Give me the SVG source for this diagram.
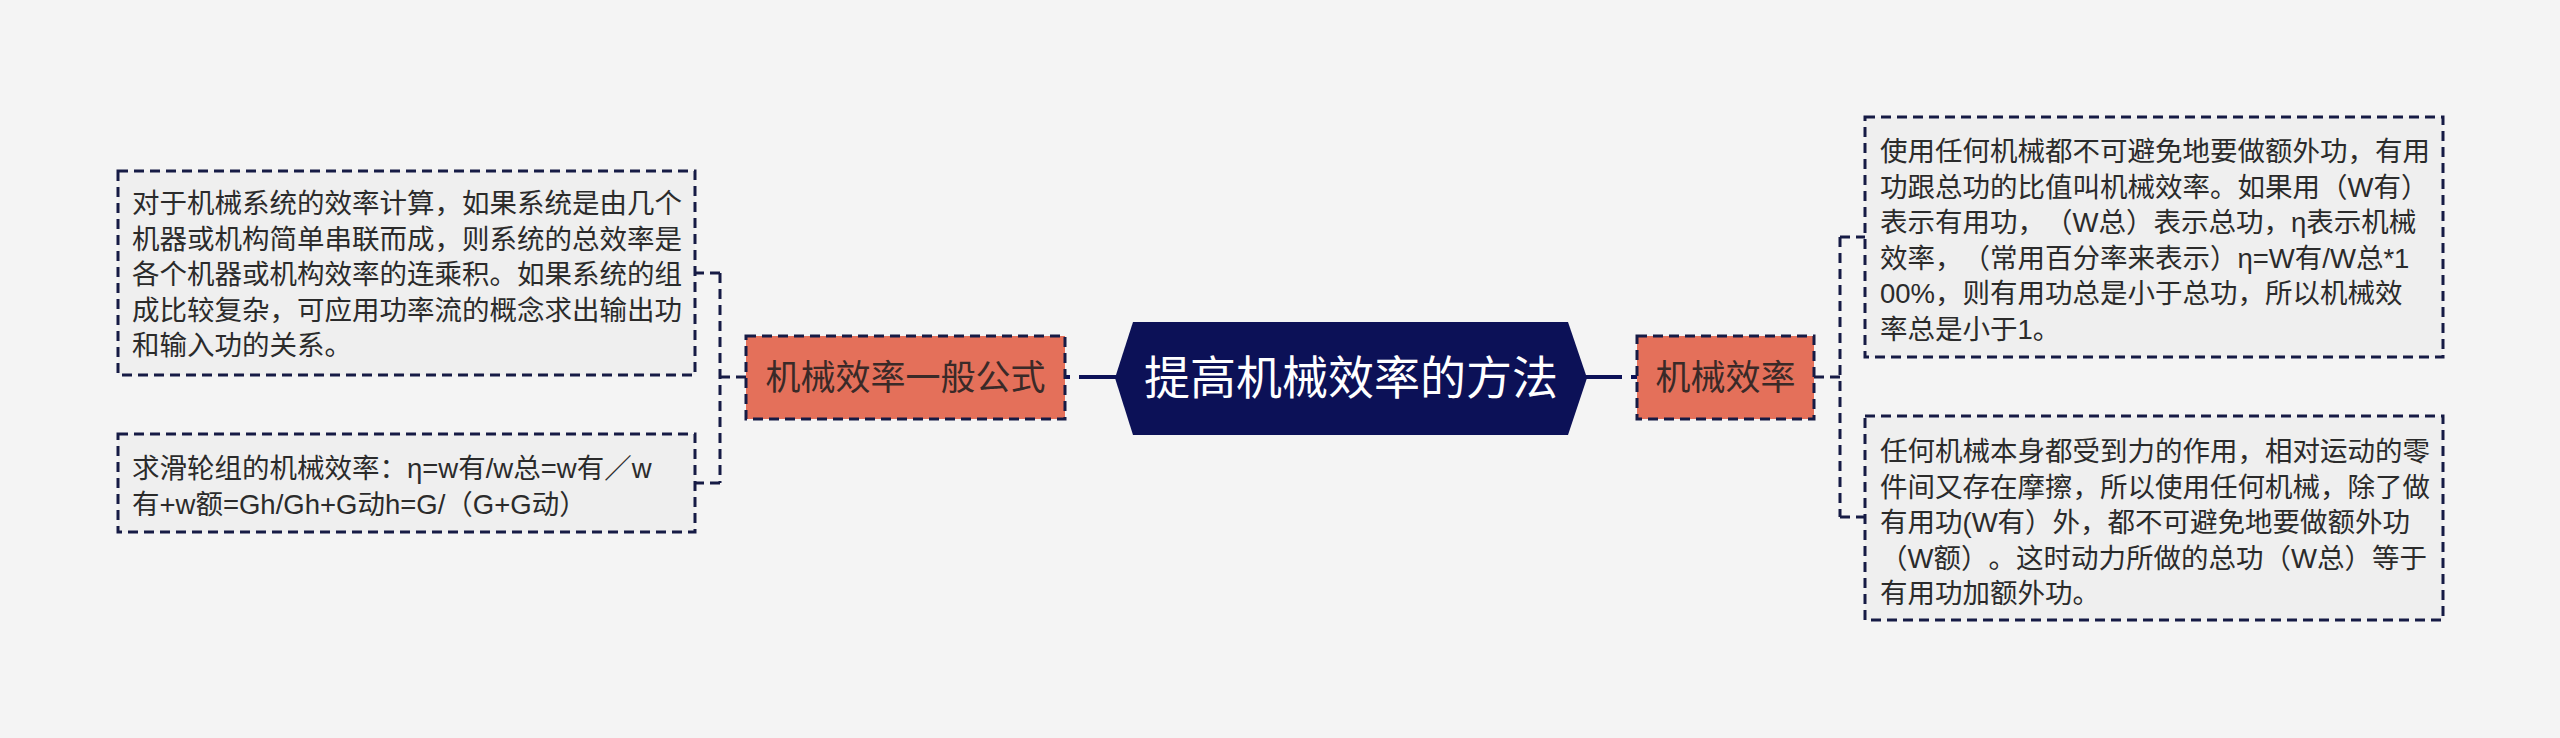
<svg xmlns="http://www.w3.org/2000/svg" width="2560" height="738" viewBox="0 0 2560 738">
<style>
text{text-spacing-trim:space-all}
.leaf-box{fill:#efefef;stroke:#161b45;stroke-width:3;stroke-dasharray:10 6}
.leaf-text{font-family:"Liberation Sans","Noto Sans CJK SC",sans-serif;font-size:27.5px;fill:#2b2b2b}
.sub-box{fill:#e4705a;stroke:#161b45;stroke-width:3;stroke-dasharray:10 6}
.sub-text{font-family:"Noto Sans CJK SC",sans-serif;font-size:35px;fill:#3a2a28;text-anchor:middle}
.center-text{font-family:"Noto Sans CJK SC",sans-serif;font-size:46px;fill:#ffffff;text-anchor:middle}
.conn{fill:none;stroke:#161b45;stroke-width:3;stroke-dasharray:10 6}
.conn-main{fill:none;stroke:#0c1157;stroke-width:4;stroke-dasharray:6 9 40}
</style>
<rect x="0" y="0" width="2560" height="738" fill="#f4f4f4"/>
<g id="connectors">
<path class="conn-main" d="M1064,377 L1116,377"/>
<path class="conn-main" d="M1637,377 L1586,377"/>
<path class="conn" d="M746,377 L720,377 M720,273 L720,483 M720,273 L696,273 M720,483 L696,483"/>
<path class="conn" d="M1814,377 L1840,377 M1840,237 L1840,517 M1840,237 L1866,237 M1840,517 L1866,517"/>
</g>
<g id="center">
<polygon points="1115,378 1133,322 1568,322 1587,378 1568,435 1133,435" fill="#0c1157"/>
<text class="center-text" x="1351" y="394">提高机械效率的方法</text>
</g>
<g id="sub-left">
<rect class="sub-box" x="746" y="336" width="319" height="83"/>
<text class="sub-text" x="905.5" y="390">机械效率一般公式</text>
</g>
<g id="sub-right">
<rect class="sub-box" x="1637" y="336" width="177" height="83"/>
<text class="sub-text" x="1725.5" y="390">机械效率</text>
</g>
<g id="leaf-left-1">
<rect class="leaf-box" x="118" y="171" width="577" height="204"/>
<text class="leaf-text" x="132">
<tspan x="132" y="213">对于机械系统的效率计算，如果系统是由几个</tspan>
<tspan x="132" y="248.5">机器或机构简单串联而成，则系统的总效率是</tspan>
<tspan x="132" y="284">各个机器或机构效率的连乘积。如果系统的组</tspan>
<tspan x="132" y="319.5">成比较复杂，可应用功率流的概念求出输出功</tspan>
<tspan x="132" y="355">和输入功的关系。</tspan>
</text>
</g>
<g id="leaf-left-2">
<rect class="leaf-box" x="118" y="434" width="577" height="98"/>
<text class="leaf-text" x="132">
<tspan x="132" y="478">求滑轮组的机械效率：η=w有/w总=w有／w</tspan>
<tspan x="132" y="514">有+w额=Gh/Gh+G动h=G/（G+G动）</tspan>
</text>
</g>
<g id="leaf-right-1">
<rect class="leaf-box" x="1865" y="117" width="578" height="240"/>
<text class="leaf-text" x="1880">
<tspan x="1880" y="161">使用任何机械都不可避免地要做额外功，有用</tspan>
<tspan x="1880" y="196.5">功跟总功的比值叫机械效率。如果用（W有）</tspan>
<tspan x="1880" y="232">表示有用功，（W总）表示总功，η表示机械</tspan>
<tspan x="1880" y="267.5">效率，（常用百分率来表示）η=W有/W总*1</tspan>
<tspan x="1880" y="303">00%，则有用功总是小于总功，所以机械效</tspan>
<tspan x="1880" y="338.5">率总是小于1。</tspan>
</text>
</g>
<g id="leaf-right-2">
<rect class="leaf-box" x="1865" y="416" width="578" height="204"/>
<text class="leaf-text" x="1880">
<tspan x="1880" y="461">任何机械本身都受到力的作用，相对运动的零</tspan>
<tspan x="1880" y="496.5">件间又存在摩擦，所以使用任何机械，除了做</tspan>
<tspan x="1880" y="532">有用功(W有）外，都不可避免地要做额外功</tspan>
<tspan x="1880" y="567.5">（W额）。这时动力所做的总功（W总）等于</tspan>
<tspan x="1880" y="603">有用功加额外功。</tspan>
</text>
</g>
</svg>
